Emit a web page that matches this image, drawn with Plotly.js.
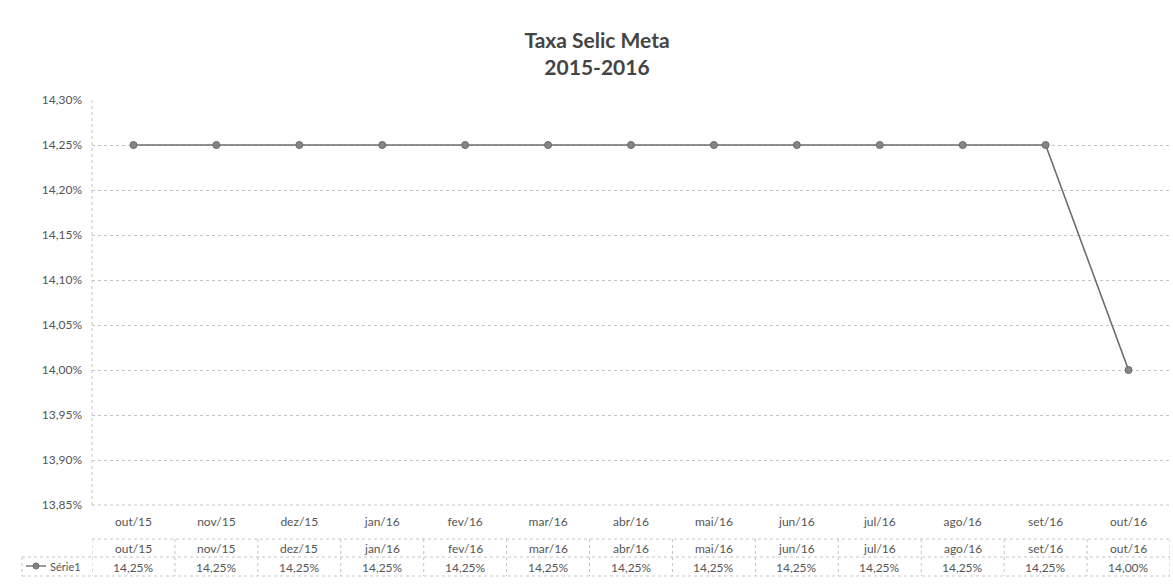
<!DOCTYPE html>
<html>
<head>
<meta charset="utf-8">
<script src="https://cdn.plot.ly/plotly-3.0.1.min.js"></script>
<style>body{margin:0;background:#fff;}#chart{width:1173px;height:584px;}</style>
</head>
<body>
<div id="chart"></div>
<script>
// Data
var categories = ['out/15','nov/15','dez/15','jan/16','fev/16','mar/16','abr/16','mai/16','jun/16','jul/16','ago/16','set/16','out/16'];
var selicValues = [14.25,14.25,14.25,14.25,14.25,14.25,14.25,14.25,14.25,14.25,14.25,14.25,14.00];
var seriesName = 'Série1';
var yTickValues = [13.85,13.90,13.95,14.00,14.05,14.10,14.15,14.20,14.25,14.30];
var chartTitle = 'Taxa Selic Meta<br>2015-2016';

function fmtPct(v){ return v.toFixed(2).replace('.', ',') + '%'; }

var W = 1173, H = 584;
var mL = 92, mR = 3, mT = 100, mB = 79;
var plotW = W - mL - mR, plotH = H - mT - mB;
function py(px){ return -(px - (H - mB)) / plotH; } // pixel y below plot -> paper y
function px2x(px){ return (px - mL) / plotW; }

var fontFam = 'Lato, "Open Sans", sans-serif';
var txtColor = '#555';
var gridColor = '#c4c4c4';

var trace = {
  x: categories,
  y: selicValues,
  type: 'scatter',
  mode: 'lines+markers',
  name: seriesName,
  line: {color: '#6e6e6e', width: 1.6},
  marker: {symbol: 'circle', size: 7, color: '#858585', line: {color: '#6a6a6a', width: 1}},
  hoverinfo: 'x+y'
};

var shapes = [];
var annotations = [];

// plot frame (left and bottom, dotted)
shapes.push({type:'line', xref:'paper', yref:'paper', x0:0, x1:0, y0:0, y1:1, line:{color:gridColor, width:1, dash:'dot'}});
shapes.push({type:'line', xref:'paper', yref:'paper', x0:0, x1:1, y0:0, y1:0, line:{color:gridColor, width:1, dash:'dot'}});

// data table geometry
var tTop = py(539), tMid = py(557), tBot = py(576);
var legLeft = px2x(22);
var n = categories.length;
shapes.push({type:'line', xref:'paper', yref:'paper', x0:0, x1:1, y0:tTop, y1:tTop, line:{color:gridColor, width:1, dash:'dot'}});
shapes.push({type:'line', xref:'paper', yref:'paper', x0:legLeft, x1:1, y0:tMid, y1:tMid, line:{color:gridColor, width:1, dash:'dot'}});
shapes.push({type:'line', xref:'paper', yref:'paper', x0:legLeft, x1:1, y0:tBot, y1:tBot, line:{color:gridColor, width:1, dash:'dot'}});
shapes.push({type:'line', xref:'paper', yref:'paper', x0:legLeft, x1:legLeft, y0:tMid, y1:tBot, line:{color:gridColor, width:1, dash:'dot'}});
for (var i = 0; i <= n; i++) {
  shapes.push({type:'line', xref:'x', yref:'paper', x0:i-0.5, x1:i-0.5, y0:tTop, y1:tBot, line:{color:gridColor, width:1, dash:'dot'}});
}
// legend key in table
var keyY = py(566);
shapes.push({type:'line', xref:'paper', yref:'paper', x0:px2x(26), x1:px2x(46), y0:keyY, y1:keyY, line:{color:'#7a7a7a', width:1.5}});
shapes.push({type:'circle', xref:'paper', yref:'paper', x0:px2x(33), x1:px2x(39), y0:keyY - 3/plotH, y1:keyY + 3/plotH, fillcolor:'#858585', line:{color:'#6a6a6a', width:1}});
annotations.push({xref:'paper', yref:'paper', x:px2x(48), y:keyY, text:seriesName, showarrow:false, xanchor:'left', yanchor:'middle', font:{family:fontFam, size:11, color:txtColor}});

for (var j = 0; j < n; j++) {
  annotations.push({xref:'x', yref:'paper', x:categories[j], y:py(548), text:categories[j], showarrow:false, xanchor:'center', yanchor:'middle', font:{family:fontFam, size:12, color:txtColor}});
  annotations.push({xref:'x', yref:'paper', x:categories[j], y:py(567), text:fmtPct(selicValues[j]), showarrow:false, xanchor:'center', yanchor:'middle', font:{family:fontFam, size:12, color:txtColor}});
}

var layout = {
  width: W, height: H,
  margin: {l: mL, r: mR, t: mT, b: mB, pad: 0},
  paper_bgcolor: '#ffffff',
  plot_bgcolor: '#ffffff',
  showlegend: false,
  separators: ',.',
  title: {
    text: chartTitle,
    font: {family: fontFam, size: 21, color: '#444', weight: 'bold'},
    x: 597 / W, xanchor: 'center',
    y: 1 - 48 / H, yanchor: 'top', yref: 'container'
  },
  xaxis: {
    type: 'category',
    range: [-0.5, categories.length - 0.5],
    showgrid: false,
    zeroline: false,
    showline: false,
    ticks: '',
    tickfont: {family: fontFam, size: 12, color: txtColor},
    ticklabelstandoff: 8,
    fixedrange: true
  },
  yaxis: {
    range: [13.85, 14.30],
    tickvals: yTickValues,
    ticktext: yTickValues.map(fmtPct),
    showgrid: true,
    gridcolor: gridColor,
    griddash: 'dot',
    gridwidth: 1,
    zeroline: false,
    showline: false,
    ticks: '',
    ticklabelstandoff: 9,
    tickfont: {family: fontFam, size: 12, color: txtColor},
    fixedrange: true
  },
  shapes: shapes,
  annotations: annotations
};

Plotly.newPlot('chart', [trace], layout, {displayModeBar: false, staticPlot: true});
</script>
</body>
</html>
